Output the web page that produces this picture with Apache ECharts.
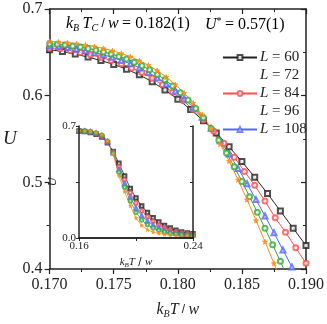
<!DOCTYPE html>
<html>
<head>
<meta charset="utf-8">
<script src="https://cdn.jsdelivr.net/npm/echarts@6/dist/echarts.min.js"></script>
<style>
  html, body { margin: 0; padding: 0; background: #fff; }
  #chart { width: 327px; height: 324px; }
</style>
</head>
<body>
<div id="chart"></div>
<script>
// Binder cumulant U vs k_B T / w, main panel + inset
const FONT = 'Liberation Serif'

// main panel temperatures (different sampling per series)
const tBlack = [0.170, 0.171, 0.172, 0.173, 0.174, 0.175, 0.176, 0.177, 0.178, 0.179, 0.180,
  0.181, 0.182, 0.183, 0.184, 0.185, 0.186, 0.187, 0.188, 0.189, 0.190]
const uBlack = [0.653, 0.651, 0.648, 0.6445, 0.6405, 0.636, 0.6305, 0.624, 0.616, 0.6065, 0.596,
  0.584, 0.571, 0.557, 0.541, 0.524, 0.506, 0.487, 0.467, 0.447, 0.427]

const tRed = [0.1700, 0.1708, 0.1716, 0.1724, 0.1732, 0.1740, 0.1748, 0.1756, 0.1764, 0.1772,
  0.1780, 0.1788, 0.1796, 0.1804, 0.1812, 0.1820, 0.1828, 0.1836, 0.1844, 0.1852, 0.1860,
  0.1868, 0.1876, 0.1884, 0.1892, 0.1900]
const uRed = [0.6554, 0.6540, 0.6521, 0.6498, 0.6472, 0.6442, 0.6407, 0.6367, 0.6320, 0.6266,
  0.6201, 0.6125, 0.6040, 0.5945, 0.5839, 0.5722, 0.5591, 0.5451, 0.5290, 0.5125, 0.4965,
  0.4785, 0.4590, 0.4425, 0.4245, 0.4065]

const tBlue = [0.1700, 0.1707, 0.1714, 0.1721, 0.1728, 0.1735, 0.1742, 0.1749, 0.1756, 0.1763,
  0.1770, 0.1777, 0.1784, 0.1791, 0.1798, 0.1805, 0.1812, 0.1819, 0.1826, 0.1833, 0.1840,
  0.1847, 0.1854, 0.1861, 0.1868, 0.1875, 0.1882, 0.1889, 0.1896]
const uBlue = [0.6578, 0.6568, 0.6555, 0.6538, 0.6519, 0.6496, 0.6471, 0.6442, 0.6407, 0.6368,
  0.6323, 0.6268, 0.6206, 0.6135, 0.6055, 0.5965, 0.5865, 0.5752, 0.5623, 0.5481, 0.5328,
  0.5161, 0.4984, 0.4801, 0.4612, 0.4418, 0.4220, 0.4024, 0.3825]

const tGreen = [0.1700, 0.1706, 0.1712, 0.1718, 0.1724, 0.1730, 0.1736, 0.1742, 0.1748, 0.1754,
  0.1760, 0.1766, 0.1772, 0.1778, 0.1784, 0.1790, 0.1796, 0.1802, 0.1808, 0.1814, 0.1820,
  0.1826, 0.1832, 0.1838, 0.1844, 0.1850, 0.1856, 0.1862, 0.1868, 0.1874, 0.1880, 0.1886]
const uGreen = [0.660, 0.6593, 0.6585, 0.6574, 0.6561, 0.6544, 0.6525, 0.6505, 0.6481, 0.6453,
  0.6423, 0.6386, 0.6345, 0.6298, 0.6245, 0.6183, 0.6112, 0.6035, 0.5949, 0.5852, 0.5744,
  0.562, 0.5485, 0.5338, 0.5179, 0.5011, 0.4835, 0.4654, 0.4469, 0.428, 0.4088, 0.389]

const tOrange = [0.1700, 0.1707, 0.1714, 0.1721, 0.1728, 0.1735, 0.1742, 0.1749, 0.1756, 0.1763,
  0.1770, 0.1777, 0.1784, 0.1791, 0.1798, 0.1805, 0.1812, 0.1819, 0.1826, 0.1833, 0.1840,
  0.1847, 0.1854, 0.1861, 0.1868, 0.1875, 0.1882]
const uOrange = [0.6625, 0.6620, 0.6612, 0.6600, 0.6585, 0.6567, 0.6545, 0.6518, 0.6487, 0.6450,
  0.6405, 0.6352, 0.6290, 0.6215, 0.6128, 0.6030, 0.5915, 0.5780, 0.5620, 0.5440, 0.5245,
  0.5030, 0.4800, 0.4560, 0.4315, 0.4065, 0.3810]

// inset: wide temperature range
const tInset = [0.160, 0.164, 0.168, 0.172, 0.176, 0.180, 0.184, 0.188, 0.192, 0.196, 0.200,
  0.204, 0.208, 0.212, 0.216, 0.220, 0.224, 0.228, 0.232, 0.236, 0.240]
const iBlack = [0.668, 0.666, 0.660, 0.648, 0.6305, 0.596, 0.541, 0.467, 0.388, 0.310, 0.250,
  0.200, 0.160, 0.127, 0.100, 0.078, 0.062, 0.048, 0.038, 0.031, 0.026]
const iRed = [0.6685, 0.6668, 0.6616, 0.651, 0.6345, 0.5992, 0.5369, 0.4473, 0.3635, 0.2825, 0.2188,
  0.1695, 0.133, 0.1045, 0.082, 0.064, 0.051, 0.0398, 0.0318, 0.026, 0.022]
const iBlue = [0.669, 0.6675, 0.6633, 0.654, 0.6385, 0.6023, 0.5328, 0.4277, 0.339, 0.255, 0.1875,
  0.139, 0.106, 0.082, 0.064, 0.05, 0.04, 0.0315, 0.0255, 0.021, 0.018]
const iGreen = [0.6694, 0.6682, 0.6647, 0.6566, 0.642, 0.6051, 0.5291, 0.4103, 0.3174, 0.2308, 0.16,
  0.1122, 0.0822, 0.0622, 0.0482, 0.0377, 0.0303, 0.0249, 0.020, 0.0166, 0.0145]
const iOrange = [0.670, 0.669, 0.6665, 0.660, 0.6465, 0.6086, 0.5245, 0.3883, 0.290, 0.200, 0.125,
  0.078, 0.052, 0.037, 0.028, 0.022, 0.018, 0.015, 0.013, 0.011, 0.010]

const legendNames = ['L = 60', 'L = 72', 'L = 84', 'L = 96', 'L = 108']
const hiddenIcons = ['L = 72', 'L = 96'] // the original legend shows no sample for these

const STAR = 'path://M50,0 L61,35 L98,35 L68,57 L79,91 L50,70 L21,91 L32,57 L2,35 L39,35 Z'

// name, colour, symbol, main x, main y, inset y
const curves = [
  ['L = 60', '#222222', 'emptyRect', tBlack, uBlack, iBlack],
  ['L = 84', '#ff4d4d', 'emptyCircle', tRed, uRed, iRed],
  ['L = 108', '#5566ff', 'emptyTriangle', tBlue, uBlue, iBlue],
  ['L = 72', '#33aa33', 'emptyCircle', tGreen, uGreen, iGreen],
  ['L = 96', '#ff8c1a', STAR, tOrange, uOrange, iOrange]
]

const zip = (xs, ys) => xs.map((x, i) => [x, ys[i]])

const series = []
curves.forEach(([name, color, symbol, xs, ys, ins]) => {
  series.push({
    name: name, type: 'line', xAxisIndex: 0, yAxisIndex: 0,
    data: zip(xs, ys), symbol: symbol, symbolSize: 5, clip: true,
    lineStyle: { color: color, width: 1 },
    itemStyle: { color: color, borderColor: color, borderWidth: 1, opacity: 0.8 },
    silent: true, animation: false, z: 3
  })
  series.push({
    name: name, type: 'line', xAxisIndex: 2, yAxisIndex: 2,
    data: zip(tInset, ins), symbol: symbol, symbolSize: 3.5,
    lineStyle: { color: color, width: 0.8 },
    itemStyle: { color: color, borderColor: color, borderWidth: 0.8, opacity: 0.8 },
    silent: true, animation: false, z: 6
  })
})

const axisLine = { show: true, lineStyle: { color: '#222', width: 1.5 } }
const ital = { fontStyle: 'italic', fontFamily: FONT }
const kbRich = {
  i: { fontStyle: 'italic', fontFamily: FONT, fontSize: 16, color: '#222' },
  s: { fontStyle: 'italic', fontFamily: FONT, fontSize: 10, color: '#222', padding: [9, 0, 0, 0] },
  n: { fontFamily: FONT, fontSize: 16, color: '#222' }
}

const chart = echarts.init(document.getElementById('chart'), null, { renderer: 'canvas' })

chart.setOption({
  backgroundColor: '#fff',
  animation: false,
  grid: [
    { left: 48, right: 17, top: 9, bottom: 52 },
    { left: 79, right: 134, top: 126, bottom: 86, show: true, backgroundColor: '#fff', borderWidth: 0, z: 4 }
  ],
  legend: {
    data: legendNames.map(n => hiddenIcons.includes(n)
      ? { name: n, itemStyle: { opacity: 0 }, lineStyle: { opacity: 0 } }
      : { name: n }),
    orient: 'vertical', left: 217, top: 45,
    itemWidth: 34, itemHeight: 6, itemGap: 3,
    selectedMode: false,
    formatter: n => '{i|L} = ' + n.split('= ')[1],
    textStyle: {
      fontFamily: FONT, fontSize: 15, color: '#222', padding: [0, 0, 0, -2],
      rich: { i: { fontStyle: 'italic', fontFamily: FONT, fontSize: 15, color: '#222' } }
    }
  },
  xAxis: [
    {
      gridIndex: 0, type: 'value', min: 0.170, max: 0.190, interval: 0.005,
      axisLine: axisLine,
      axisTick: { show: true, inside: false, length: 5, lineStyle: { color: '#222', width: 1.2 } },
      minorTick: { show: true, splitNumber: 2, length: 3, lineStyle: { color: '#222', width: 1 } },
      splitLine: { show: false },
      axisLabel: { formatter: v => v.toFixed(3), fontFamily: FONT, fontSize: 16, color: '#222', margin: 8 },
      name: '{i|k}{s|B}{i|T} / {i|w}', nameLocation: 'middle', nameGap: 31,
      nameTextStyle: { rich: kbRich }
    },
    {
      gridIndex: 0, type: 'value', position: 'top', min: 0.170, max: 0.190, interval: 0.005,
      axisLine: axisLine,
      axisTick: { show: true, inside: true, length: 5, lineStyle: { color: '#222', width: 1.2 } },
      minorTick: { show: true, splitNumber: 2, length: 3, lineStyle: { color: '#222' } },
      splitLine: { show: false }, axisLabel: { show: false }
    },
    {
      gridIndex: 1, type: 'value', min: 0.16, max: 0.24, interval: 0.04, z: 7,
      axisLine: axisLine,
      axisTick: { show: true, inside: false, length: 3, lineStyle: { color: '#222' } },
      splitLine: { show: false },
      axisLabel: {
        formatter: v => (Math.abs(v - 0.20) < 1e-6 ? '' : v.toFixed(2)),
        fontFamily: FONT, fontSize: 11, color: '#222', margin: 3
      },
      name: '{i|k}{s|B}{i|T} / {i|w}', nameLocation: 'middle', nameGap: 18,
      nameTextStyle: {
        rich: {
          i: { fontStyle: 'italic', fontFamily: FONT, fontSize: 11, color: '#222' },
          s: { fontStyle: 'italic', fontFamily: FONT, fontSize: 7, color: '#222', padding: [6, 0, 0, 0] }
        }
      }
    },
    {
      gridIndex: 1, type: 'value', position: 'top', min: 0.16, max: 0.24, interval: 0.04, z: 7,
      axisLine: axisLine,
      axisTick: { show: true, inside: true, length: 3, lineStyle: { color: '#222' } },
      splitLine: { show: false }, axisLabel: { show: false }
    }
  ],
  yAxis: [
    {
      gridIndex: 0, type: 'value', min: 0.4, max: 0.7, interval: 0.1,
      axisLine: axisLine,
      axisTick: { show: true, inside: false, length: 5, lineStyle: { color: '#222', width: 1.2 } },
      minorTick: { show: true, splitNumber: 2, length: 3, lineStyle: { color: '#222' } },
      splitLine: { show: false },
      axisLabel: { formatter: v => v.toFixed(1), fontFamily: FONT, fontSize: 16, color: '#222', margin: 7 },
      name: 'U', nameLocation: 'middle', nameRotate: 0, nameGap: 30,
      nameTextStyle: Object.assign({ fontSize: 19, color: '#222' }, ital)
    },
    {
      gridIndex: 0, type: 'value', position: 'right', min: 0.4, max: 0.7, interval: 0.1,
      axisLine: axisLine,
      axisTick: { show: true, inside: true, length: 5, lineStyle: { color: '#222', width: 1.2 } },
      minorTick: { show: true, splitNumber: 2, length: 3, lineStyle: { color: '#222' } },
      splitLine: { show: false }, axisLabel: { show: false }
    },
    {
      gridIndex: 1, type: 'value', min: 0, max: 0.7, interval: 0.35, z: 7,
      axisLine: axisLine,
      axisTick: { show: true, inside: false, length: 3, lineStyle: { color: '#222' } },
      splitLine: { show: false },
      axisLabel: {
        formatter: v => (Math.abs(v - 0.35) < 1e-6 ? '' : v.toFixed(1)),
        fontFamily: FONT, fontSize: 11, color: '#222', margin: 3
      },
      name: 'U', nameLocation: 'middle', nameGap: 17,
      nameTextStyle: Object.assign({ fontSize: 12, color: '#222' }, ital)
    },
    {
      gridIndex: 1, type: 'value', position: 'right', min: 0, max: 0.7, interval: 0.35, z: 7,
      axisLine: axisLine,
      axisTick: { show: true, inside: true, length: 3, lineStyle: { color: '#222' } },
      splitLine: { show: false }, axisLabel: { show: false }
    }
  ],
  graphic: [
    {
      type: 'text', left: 66, top: 16, z: 10,
      style: { text: '{i|k}{s|B} {i|T}{s|C} / {i|w} {n|= 0.182(1)}', rich: kbRich }
    },
    {
      type: 'text', left: 205, top: 16, z: 10,
      style: {
        text: '{i|U}{sup|*} {n|= 0.57(1)}',
        rich: {
          i: kbRich.i, n: kbRich.n,
          sup: { fontFamily: FONT, fontSize: 10, color: '#222', padding: [0, 0, 8, 0] }
        }
      }
    }
  ],
  series: series
})
</script>
</body>
</html>
